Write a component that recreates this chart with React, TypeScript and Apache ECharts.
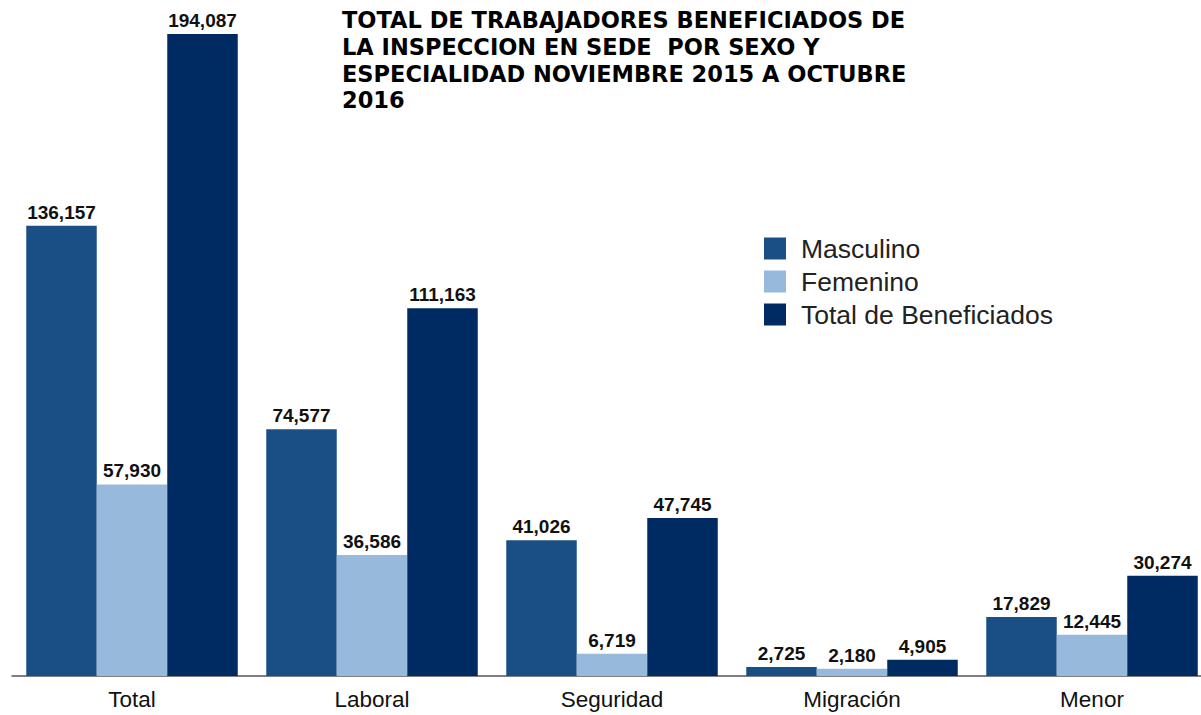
import React, { useEffect, useRef } from "react";
import * as echarts from "echarts";

const categories = ["Total", "Laboral", "Seguridad", "Migración", "Menor"];
const masculino = [136157, 74577, 41026, 2725, 17829];
const femenino = [57930, 36586, 6719, 2180, 12445];
const totalBenef = [194087, 111163, 47745, 4905, 30274];
const seriesNames = ["Masculino", "Femenino", "Total de Beneficiados"];
const titleLines = [
  "TOTAL DE TRABAJADORES BENEFICIADOS DE",
  "LA INSPECCION EN SEDE  POR SEXO Y",
  "ESPECIALIDAD NOVIEMBRE 2015 A OCTUBRE",
  "2016",
];

export default function App() {
  const ref = useRef<HTMLDivElement>(null);
  useEffect(() => {
    if (!ref.current) return;
    const chart = echarts.init(ref.current, null, { renderer: "svg" });
    const label = {
      show: true,
      position: "top",
      distance: 4,
      color: "#111",
      fontFamily: "Liberation Sans",
      fontWeight: "bold",
      fontSize: 19,
      formatter: (p: any) => Number(p.value).toLocaleString("en-US"),
    };
    const mk = (name: string, data: number[], color: string) => ({
      name,
      type: "bar",
      data,
      barWidth: 70.5,
      barGap: "0%",
      itemStyle: { color },
      label,
    });
    chart.setOption({
      animation: false,
      backgroundColor: "#fff",
      title: {
        text: titleLines.join("\n"),
        left: 337,
        top: 2,
        textStyle: {
          fontFamily: "DejaVu Sans",
          fontWeight: "bold",
          fontSize: 22.5,
          lineHeight: 26.6,
          color: "#000",
        },
      },
      legend: {
        orient: "vertical",
        left: 759,
        top: 230,
        itemWidth: 22,
        itemHeight: 22,
        itemGap: 6,
        icon: "rect",
        data: seriesNames,
        textStyle: {
          fontFamily: "Liberation Sans",
          fontSize: 26.5,
          lineHeight: 22,
          color: "#222",
          padding: [0, 0, 0, 10],
        },
      },
      grid: { left: 12, right: 0, top: 14.5, bottom: 39 },
      xAxis: {
        type: "category",
        data: categories,
        axisLine: { lineStyle: { color: "#555", width: 1.5 } },
        axisTick: { show: false },
        axisLabel: {
          color: "#111",
          fontFamily: "Liberation Sans",
          fontSize: 22.5,
          margin: 12,
        },
      },
      yAxis: {
        type: "value",
        min: 0,
        max: 200000,
        show: false,
        splitLine: { show: false },
      },
      series: [
        mk(seriesNames[0], masculino, "#1a4f85"),
        mk(seriesNames[1], femenino, "#97b9db"),
        mk(seriesNames[2], totalBenef, "#002b62"),
      ],
    });
    return () => chart.dispose();
  }, []);
  return (
    <div style={{ width: 1201, height: 715, position: "absolute", left: 0, top: 0, overflow: "hidden" }}>
      <div ref={ref} style={{ width: 1211.5, height: 715 }} />
    </div>
  );
}
